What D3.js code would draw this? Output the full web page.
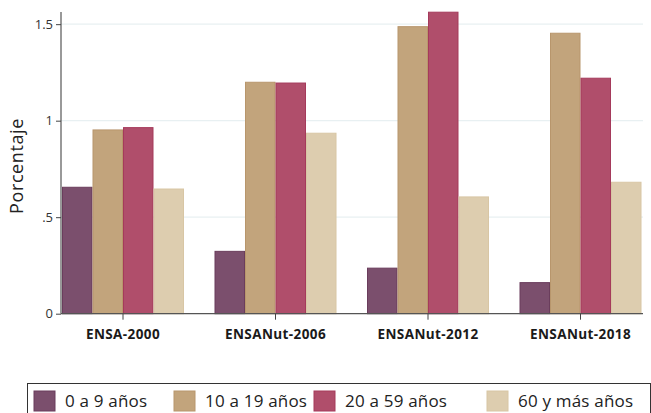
<!DOCTYPE html>
<html><head><meta charset="utf-8">
<script src="https://cdn.jsdelivr.net/npm/d3@7"></script>
<style>body{margin:0;background:#fff}svg{display:block}text{font-family:"Open Sans",sans-serif}</style>
</head><body>
<svg id="c" width="651" height="413"></svg>
<script>
const categories = ["ENSA-2000","ENSANut-2006","ENSANut-2012","ENSANut-2018"];
const seriesNames = ["0 a 9 años","10 a 19 años","20 a 59 años","60 y más años"];
const s0a9 = [0.655, 0.323, 0.236, 0.161];
const s10a19 = [0.952, 1.199, 1.487, 1.453];
const s20a59 = [0.964, 1.195, 1.562, 1.220];
const s60mas = [0.646, 0.935, 0.605, 0.681];
const yTicks = [0, 0.5, 1, 1.5];
const yTickLabels = ["0", ".5", "1", "1.5"];
const seriesVals = [s0a9, s10a19, s20a59, s60mas];
const fills = ["#7b4f6d","#c2a47c","#b04e6b","#ddcdaf"];
const strokes = ["#6a3d5c","#b8966c","#a53a5b","#d8c6a4"];

const svg = d3.select("#c");
const x0 = d3.scaleBand().domain(categories).range([62, 641.5]).paddingInner(0.2).paddingOuter(0);
const x1 = d3.scaleBand().domain(d3.range(4)).range([0, x0.bandwidth()]);
const y = d3.scaleLinear().domain([0, 1.563]).range([313.7, 12]);

// gridlines
svg.append("g").selectAll("line").data(yTicks.filter(d=>d>0)).join("line")
  .attr("x1", 61).attr("x2", 643).attr("y1", d=>y(d)).attr("y2", d=>y(d))
  .attr("stroke", "#e8f0f2").attr("stroke-width", 1.3);

// bars
categories.forEach((c, ci) => {
  svg.append("g").selectAll("rect").data(seriesVals.map((s, si) => ({si, v: s[ci]}))).join("rect")
    .attr("x", d => x0(c) + x1(d.si) + 0.5)
    .attr("width", x1.bandwidth() - 1)
    .attr("y", d => y(d.v))
    .attr("height", d => y(0) - y(d.v))
    .attr("fill", d => fills[d.si])
    .attr("stroke", d => strokes[d.si]).attr("stroke-width", 1);
});

// y axis
const ya = svg.append("g").attr("transform", "translate(61,0)")
  .call(d3.axisLeft(y).tickValues(yTicks).tickFormat((d,i)=>yTickLabels[i]).tickSize(5).tickPadding(3));
ya.select(".domain").attr("stroke", "#555").attr("stroke-width", 1.2).attr("d", "M0," + y(0) + "V12");
ya.selectAll(".tick line").attr("stroke", "#444");
ya.selectAll(".tick text").attr("font-size", 13).attr("fill", "#333").attr("font-family", "Open Sans");

// x axis
const xa = svg.append("g").attr("transform", "translate(0," + y(0) + ")")
  .call(d3.axisBottom(x0).tickSize(6).tickPadding(10));
xa.select(".domain").attr("stroke", "#555").attr("stroke-width", 1.2).attr("d", "M61,0H643");
xa.selectAll(".tick line").attr("stroke", "#444");
xa.selectAll(".tick text").attr("font-size", 13.5).attr("font-weight", "bold").attr("letter-spacing", 0.4)
  .attr("fill", "#1a1a1a").attr("font-family", "Open Sans");

// y title
svg.append("text").attr("transform", "translate(23,166) rotate(-90)")
  .attr("text-anchor", "middle").attr("font-size", 18).attr("letter-spacing", 0.6).attr("fill", "#222").text("Porcentaje");

// legend
svg.append("rect").attr("x", 27.5).attr("y", 383.5).attr("width", 623).attr("height", 40)
  .attr("fill", "#fff").attr("stroke", "#333").attr("stroke-width", 1);
const legX = [34, 174, 314, 487];
const lg = svg.append("g").selectAll("g").data(seriesNames).join("g")
  .attr("transform", (d,i) => "translate(" + legX[i] + ",391)");
lg.append("rect").attr("width", 21).attr("height", 20).attr("fill", (d,i)=>fills[i]).attr("stroke", (d,i)=>strokes[i]);
lg.append("text").attr("x", 31).attr("y", 16).attr("font-size", 17).attr("letter-spacing", 0.2).attr("fill", "#222").text(d=>d);
</script>
</body></html>
